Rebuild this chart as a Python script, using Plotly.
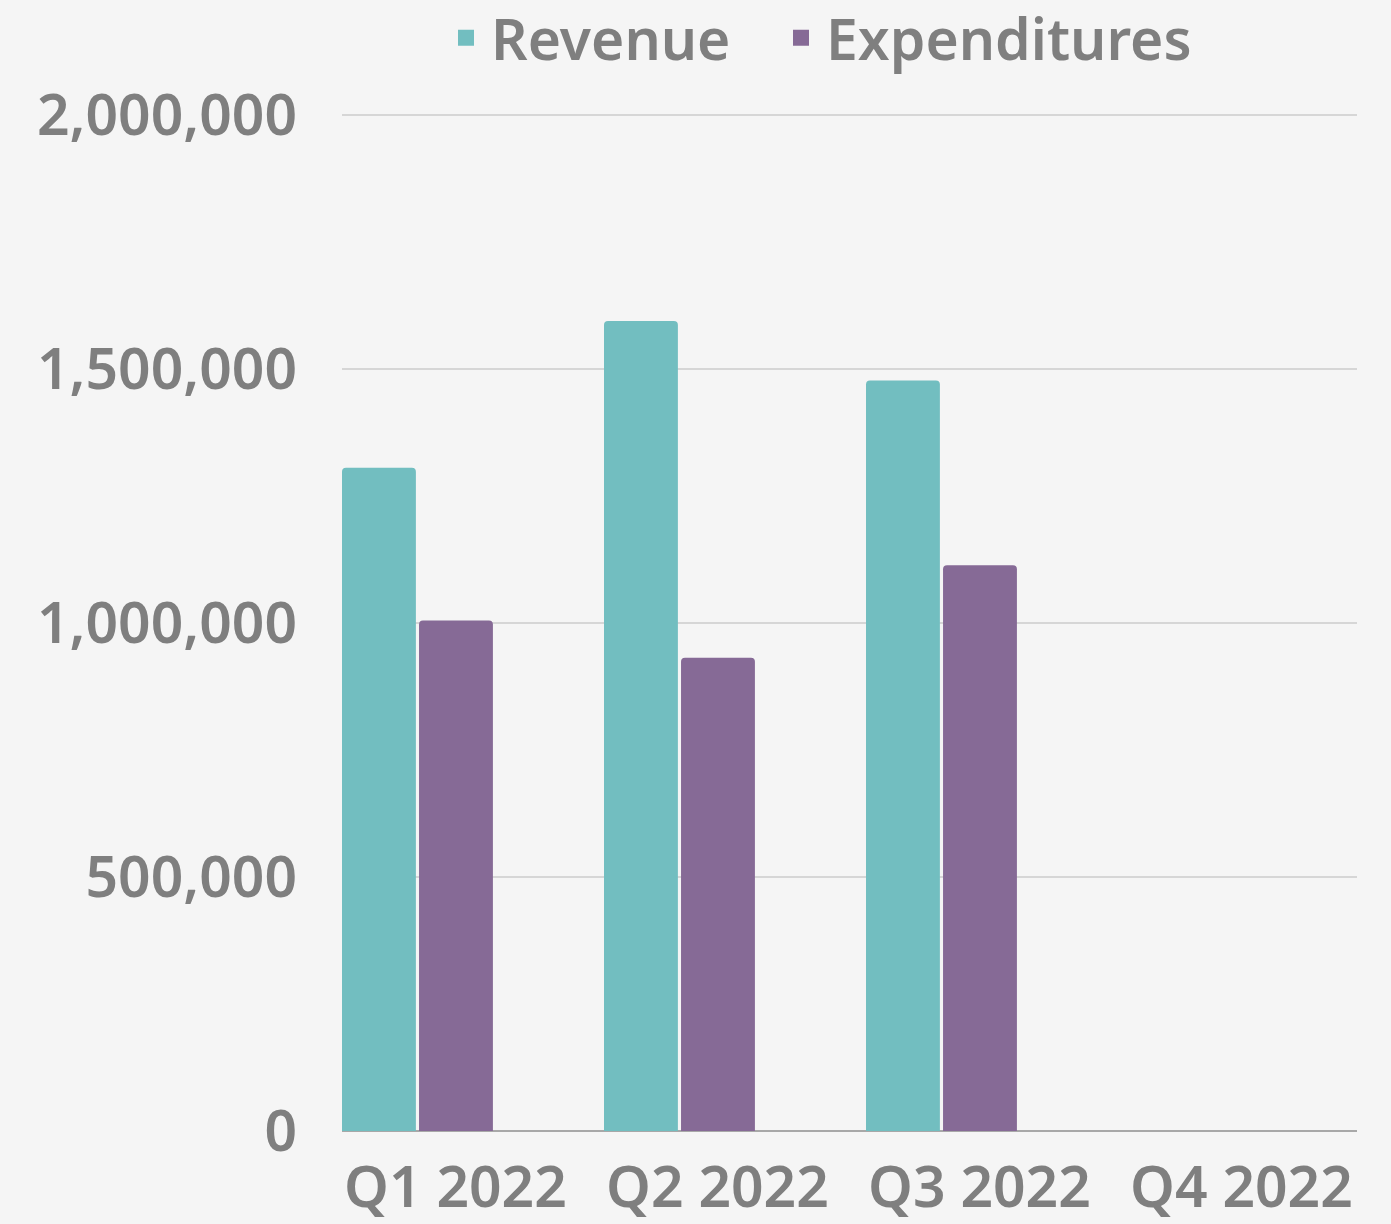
import plotly.graph_objects as go

categories = ["Q1 2022", "Q2 2022", "Q3 2022", "Q4 2022"]
revenue = [1306000, 1595000, 1478000, None]
expenditures = [1005000, 932000, 1114000, None]
y_ticks = [0, 500000, 1000000, 1500000, 2000000]
series_names = ["Revenue", "Expenditures"]
series_colors = ["#72bec0", "#866a96"]

TEXT = "#7f7f7f"
FONT = "Noto Sans"
FS = 57
W = 600

fig = go.Figure()
fig.add_trace(go.Bar(
    x=categories, y=revenue, name=series_names[0], showlegend=False,
    marker=dict(color=series_colors[0], cornerradius=4, line=dict(width=0)),
    width=0.282, offset=-0.433,
))
fig.add_trace(go.Bar(
    x=categories, y=expenditures, name=series_names[1], showlegend=False,
    marker=dict(color=series_colors[1], cornerradius=4, line=dict(width=0)),
    width=0.282, offset=-0.139,
))
# legend entries (square swatches), one legend per series for exact placement
for nm, col, lg in zip(series_names, series_colors, ["legend", "legend2"]):
    fig.add_trace(go.Scatter(
        x=[None], y=[None], mode="markers", name=nm, legend=lg,
        marker=dict(symbol="square", size=16, color=col),
        hoverinfo="skip",
    ))

legend_common = dict(
    orientation="h", y=1.0745, yanchor="middle", xanchor="left",
    font=dict(family=FONT, size=FS, color=TEXT, weight=W),
    bgcolor="rgba(0,0,0,0)", itemclick=False, itemdoubleclick=False,
    itemwidth=40,
)

fig.update_layout(
    width=1391, height=1224,
    paper_bgcolor="#f5f5f5", plot_bgcolor="#f5f5f5",
    margin=dict(l=342, r=34, t=114, b=93, autoexpand=False),
    barmode="group",
    font=dict(family=FONT, color=TEXT, size=FS, weight=W),
    showlegend=True,
    legend=dict(x=(441 - 342) / 1015, **legend_common),
    legend2=dict(x=(776 - 342) / 1015, **legend_common),
    xaxis=dict(
        type="category", range=[-0.433, 3.441],
        showgrid=False, showline=False, zeroline=False,
        tickfont=dict(family=FONT, size=FS, color=TEXT, weight=W),
        ticks="", ticklabelstandoff=18,
    ),
    yaxis=dict(
        range=[0, 2002500], tickvals=y_ticks, tickformat=",d",
        showgrid=True, gridcolor="#d6d6d6", gridwidth=1.5,
        zeroline=True, zerolinecolor="#a8a8a8", zerolinewidth=2,
        showline=False, ticks="",
        tickfont=dict(family=FONT, size=FS, color=TEXT, weight=W),
        ticklabelstandoff=44,
    ),
)

fig.write_html("out.html", config={"displayModeBar": False},
               post_script="document.body.style.margin='0';")
